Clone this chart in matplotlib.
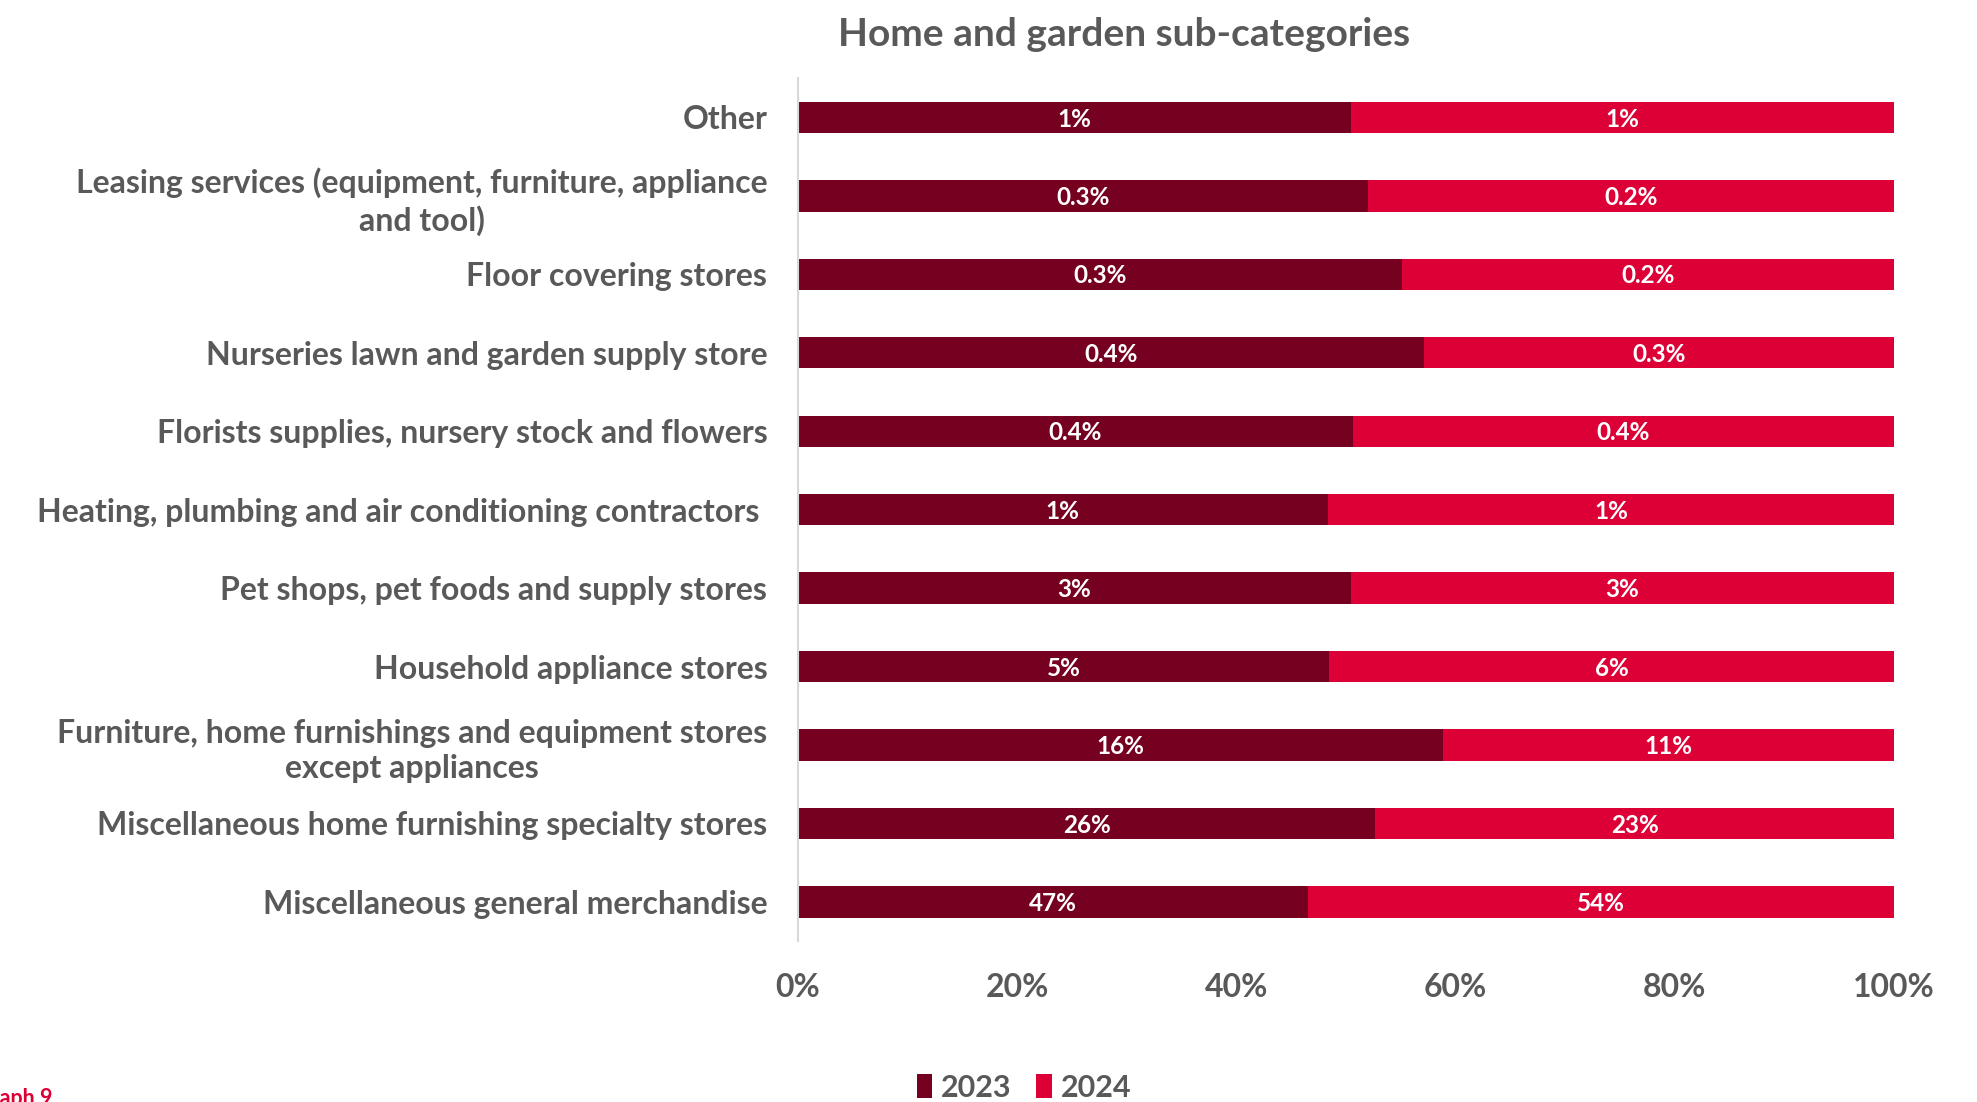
import matplotlib
matplotlib.use("Agg")
import matplotlib.pyplot as plt
from matplotlib.patches import Patch

plt.rcParams['font.family'] = ['Lato', 'DejaVu Sans']
plt.rcParams['font.weight'] = 'bold'

# Sub-categories, listed top to bottom
categories = [
    "Other",
    "Leasing services (equipment, furniture, appliance\nand tool)",
    "Floor covering stores",
    "Nurseries lawn and garden supply store",
    "Florists supplies, nursery stock and flowers",
    "Heating, plumbing and air conditioning contractors ",
    "Pet shops, pet foods and supply stores",
    "Household appliance stores",
    "Furniture, home furnishings and equipment stores\nexcept appliances",
    "Miscellaneous home furnishing specialty stores",
    "Miscellaneous general merchandise",
]
# Share of home and garden spending (%), per year
share_2023 = [1.02, 0.26, 0.27, 0.40, 0.41, 1.00, 3.00, 5.40, 15.7, 25.8, 47.0]
share_2024 = [1.00, 0.24, 0.22, 0.30, 0.40, 1.07, 2.95, 5.75, 11.0, 23.2, 54.0]
years = ["2023", "2024"]
x_ticks = [0, 20, 40, 60, 80, 100]

COL_23 = "#760020"
COL_24 = "#DC0036"
TXT = "#595959"


def fmt(v):
    return f"{v:.1f}%" if v < 1 else f"{v:.0f}%"


fig = plt.figure(figsize=(19.77, 11.02), dpi=100)
ax = fig.add_axes([0.4036, 0.146, 0.5545, 0.783])

n = len(categories)
ypos = [n - 1 - i for i in range(n)]
tot = [a + b for a, b in zip(share_2023, share_2024)]
p23 = [100 * a / t for a, t in zip(share_2023, tot)]
p24 = [100 * b / t for b, t in zip(share_2024, tot)]

h = 0.40
ax.barh(ypos, p23, height=h, color=COL_23, edgecolor='none')
ax.barh(ypos, p24, left=p23, height=h, color=COL_24, edgecolor='none')

for y, a, b, va, vb in zip(ypos, p23, p24, share_2023, share_2024):
    ax.text(a / 2, y - 0.02, fmt(va), ha='center', va='center',
            color='white', fontsize=17.5, fontweight='bold')
    ax.text(a + b / 2, y - 0.02, fmt(vb), ha='center', va='center',
            color='white', fontsize=17.5, fontweight='bold')

ax.set_xlim(0, 100)
ax.set_ylim(-0.5, n - 0.5)
ax.set_yticks(ypos)
ax.set_yticklabels(categories, fontsize=23, color=TXT, fontweight='bold',
                   multialignment='center', linespacing=1.25)
ax.set_xticks(x_ticks)
ax.set_xticklabels([f"{t}%" for t in x_ticks], fontsize=23, color=TXT,
                   fontweight='bold')
ax.tick_params(axis='y', length=0, pad=22)
ax.tick_params(axis='x', length=0, pad=23)
for s in ['top', 'right', 'bottom']:
    ax.spines[s].set_visible(False)
ax.spines['left'].set_color('#D9D9D9')
ax.spines['left'].set_linewidth(1.5)

fig.text(0.5685, 0.969, "Home and garden sub-categories", ha='center',
         va='center', fontsize=28, color=TXT, fontweight='bold')

handles = [Patch(facecolor=COL_23, edgecolor='none'),
           Patch(facecolor=COL_24, edgecolor='none')]
fig.legend(handles, years, loc='center', bbox_to_anchor=(0.518, 0.013),
           ncol=2, frameon=False, handlelength=0.5,
           handleheight=0.8, handletextpad=0.3, columnspacing=0.8,
           labelcolor=TXT, prop={'weight': 'bold', 'size': 22})

fig.text(0.0265, -0.006, "Graph 9", ha='right', va='bottom', fontsize=15.5,
         color=COL_24, fontweight='bold')

fig.savefig("out.png", dpi=100)
